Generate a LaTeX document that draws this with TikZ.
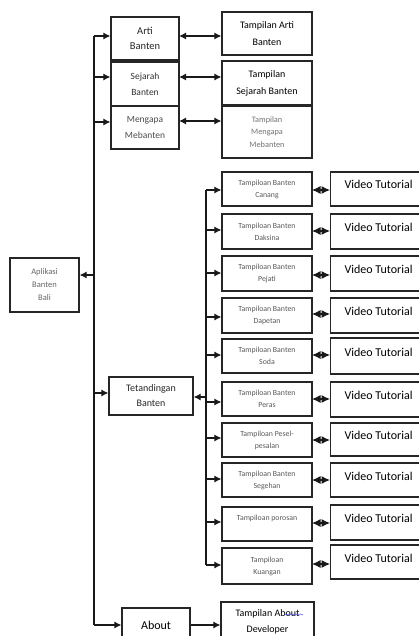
\documentclass[tikz,border=0pt]{standalone}
\usepackage{fontspec}
\setmainfont{Carlito}
\usetikzlibrary{arrows.meta,decorations.pathmorphing}
\begin{document}
\begin{tikzpicture}[x=1pt,y=-1pt,
  box/.style={draw=black!85, line width=1.2pt, inner sep=1pt, align=center},
  conn/.style={line width=1.1pt, black!90},
  arr/.style={conn, -{Latex[length=7pt,width=7pt]}},
  darr/.style={conn, {Latex[length=7pt,width=7pt]}-{Latex[length=7pt,width=7pt]}},
  sdarr/.style={conn, {Latex[length=8.5pt,width=8pt]}-{Latex[length=8.5pt,width=8pt]}},
  appfont/.style={font=\fontsize{8.5}{13}\selectfont, text=black!60},
  leftbig/.style={font=\fontsize{10.5}{15}\selectfont, text=black!85},
  leftsmall/.style={font=\fontsize{9.5}{16}\selectfont, text=black!80},
  tampfont/.style={font=\fontsize{10}{17}\selectfont, text=black},
  paler/.style={font=\fontsize{8.3}{12.5}\selectfont, text=black!55},
  listfont/.style={font=\fontsize{7.8}{12}\selectfont, text=black!65},
  vidfont/.style={font=\fontsize{12}{14}\selectfont, text=black},
]
\clip (0,0) rectangle (419,636);
\fill[white] (0,0) rectangle (419,636);

% root
\node[box, appfont, minimum width=69, minimum height=54] (app) at (44.5,285) {Aplikasi\\Banten\\Bali};

% first level
\node[box, leftbig, minimum width=68, minimum height=43] (arti) at (145,38.5) {Arti\\Banten};
\node[box, leftsmall, minimum width=68, minimum height=44] (sejarah) at (145,84) {Sejarah\\Banten};
\node[box, leftsmall, text=black!70, minimum width=68, minimum height=43] (mengapa) at (145,127.5) {Mengapa\\Mebanten};
\node[box, leftbig, font=\fontsize{10}{15}\selectfont, minimum width=84, minimum height=38] (tet) at (151,396) {Tetandingan\\Banten};
\node[box, vidfont, minimum width=68, minimum height=34] (about) at (156,625) {About};

% second level (top)
\node[box, tampfont, minimum width=90, minimum height=43] (tarti) at (267,33.5) {Tampilan Arti\\Banten};
\node[box, tampfont, minimum width=90, minimum height=44] (tsejarah) at (267,83) {Tampilan\\Sejarah Banten};
\node[box, paler, minimum width=90, minimum height=52] (tmengapa) at (267,132) {Tampilan\\Mengapa\\Mebanten};
\node[box, tampfont, font=\fontsize{10}{16}\selectfont, minimum width=93, minimum height=40] (tabout) at (267.5,622) {Tampilan About\\Developer};
\draw[blue!70, line width=0.4pt, decorate, decoration={snake, amplitude=0.6pt, segment length=2.5pt}] (285,614.5) -- (303,614.5);

% trunk
\coordinate (m1) at (94,36);
\coordinate (m2) at (94,77);
\coordinate (m3) at (94,122);
\coordinate (mapp) at (94,275);
\coordinate (mtet) at (94,393);
\coordinate (mabout) at (94,625);
\draw[conn] (m1) -- (mabout);
\draw[arr] (m1) -- (m1 -| arti.west);
\draw[arr] (m2) -- (m2 -| sejarah.west);
\draw[arr] (m3) -- (m3 -| mengapa.west);
\draw[arr] (mapp) -- (mapp -| app.east);
\draw[arr] (mtet) -- (mtet -| tet.west);
\draw[arr] (mabout) -- (about.west);
\draw[arr] (about.east) -- (about.east -| tabout.west);

% double arrows top
\coordinate (d1) at (179,36);
\coordinate (d2) at (179,77);
\coordinate (d3) at (179,121);
\draw[darr] (d1) -- (d1 -| tarti.west);
\draw[darr] (d2) -- (d2 -| tsejarah.west);
\draw[darr] (d3) -- (d3 -| tmengapa.west);

% list of tetandingan
\foreach \n/\t/\b/\vt/\vb/\ay/\dy/\txt in {
  canang/172/206/172/206/190/190/{Tampiloan Banten\\Canang},
  daksina/214/249/214/249/230/231/{Tampiloan Banten\\Daksina},
  pejati/256/291/256/291/273/275/{Tampiloan Banten\\Pejati},
  dapetan/298/333/298/333/317/314/{Tampiloan Banten\\Dapetan},
  soda/339/373/338/374/355/355/{Tampiloan Banten\\Soda},
  peras/382/416/382/417/402/399/{Tampiloan Banten\\Peras},
  pesel/423/457/423/456/438/440/{Tampiloan Pesel-\\pesalan},
  segehan/463/497/463/497/479/480/{Tampiloan Banten\\Segehan},
  porosan/507/541/505/540/522/523/{Tampiloan porosan\\~},
  kuangan/548/584/545/579/565/564/{Tampiloan\\Kuangan}}
{
  \pgfmathsetmacro{\h}{\b-\t}
  \pgfmathsetmacro{\c}{(\t+\b)/2}
  \pgfmathsetmacro{\vh}{\vb-\vt}
  \pgfmathsetmacro{\vc}{(\vt+\vb)/2}
  \node[box, listfont, minimum width=90, minimum height=\h] (\n) at (267,\c) {\txt};
  \node[box, vidfont, minimum width=96, minimum height=\vh, anchor=west] (v\n) at (330,\vc)
    {\raisebox{3pt}[8pt][2pt]{Video Tutorial}};
  \coordinate (s\n) at (206,\ay);
  \coordinate (e\n) at (312,\dy);
  \draw[arr] (s\n) -- (s\n -| \n.west);
  \draw[sdarr] (e\n) -- (e\n -| v\n.west);
}
\draw[conn] (scanang) -- (skuangan);
\coordinate (stet) at (206,397);
\draw[arr] (stet) -- (stet -| tet.east);
\end{tikzpicture}
\end{document}
